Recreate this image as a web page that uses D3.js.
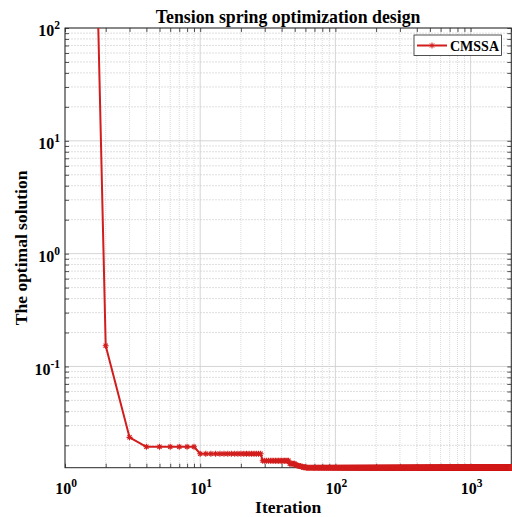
<!DOCTYPE html>
<html>
<head>
<meta charset="utf-8">
<script src="https://cdn.jsdelivr.net/npm/d3@7"></script>
<style>
  html, body { margin: 0; padding: 0; background: #fff; }
  svg { display: block; }
  text { font-family: "Liberation Serif", "Times New Roman", serif; font-weight: bold; fill: #000; }
</style>
</head>
<body>
<svg id="chart" width="512" height="517"></svg>
<script>
// Convergence history of CMSSA, stored as runs: the best value found holds
// from stepStart[i] until the next run begins.
const stepStart = [1, 2, 3, 4, 10, 29, 46, 51, 53, 56, 58, 61];
const stepValue = [4.7e14, 0.1527, 0.02354, 0.01941, 0.01683, 0.01459, 0.01375, 0.0134, 0.0131, 0.0129, 0.0128, 0.012665];
const maxIteration = 2000;

const seriesName = "CMSSA";
const titleText = "Tension spring optimization design";
const xLabelText = "Iteration";
const yLabelText = "The optimal solution";

// Decade tick exponents for the two log axes
const xTickExp = [0, 1, 2, 3];
const yTickExp = [-1, 0, 1, 2];

// Axis limits
const xDomain = [1, maxIteration];
const yDomain = [0.012665, 100];

// ---- layout ----
const plot = { left: 65, top: 28, right: 511.3, bottom: 467.7 };
const red = "#d21d1d";
const axisColor = "#262626";

const svg = d3.select("#chart");

const x = d3.scaleLog().domain(xDomain).range([plot.left, plot.right]);
const y = d3.scaleLog().domain(yDomain).range([plot.bottom, plot.top]);

// one value per iteration, expanded from the runs
const series = d3.range(1, maxIteration + 1).map(it => {
  const k = d3.bisectRight(stepStart, it) - 1;
  return { it, v: stepValue[k] };
});

// tick positions: decades and their 2..9 sub-steps inside the domain
function logTicks(dom, exps) {
  const major = exps.map(e => Math.pow(10, e));
  const minor = [];
  const e0 = Math.floor(Math.log10(dom[0])), e1 = Math.ceil(Math.log10(dom[1]));
  for (let e = e0; e <= e1; e++) {
    for (let m = 2; m <= 9; m++) {
      const v = +(m * Math.pow(10, e)).toPrecision(6);
      if (v >= dom[0] && v <= dom[1] * 1.0000001) minor.push(v);
    }
  }
  return { major, minor };
}
const xt = logTicks(xDomain, xTickExp);
const yt = logTicks(yDomain, yTickExp);

// ---- grid ----
const grid = svg.append("g");
grid.selectAll(".vmin").data(xt.minor).join("line")
  .attr("x1", d => x(d)).attr("x2", d => x(d))
  .attr("y1", plot.top).attr("y2", plot.bottom)
  .attr("stroke", "#cfcfcf").attr("stroke-width", 0.8).attr("stroke-dasharray", "1,1");
grid.selectAll(".hmin").data(yt.minor).join("line")
  .attr("y1", d => y(d)).attr("y2", d => y(d))
  .attr("x1", plot.left).attr("x2", plot.right)
  .attr("stroke", "#d6d6d6").attr("stroke-width", 0.8).attr("stroke-dasharray", "2,1");
grid.selectAll(".vmaj").data(xt.major).join("line")
  .attr("x1", d => x(d)).attr("x2", d => x(d))
  .attr("y1", plot.top).attr("y2", plot.bottom)
  .attr("stroke", "#d0d0d0").attr("stroke-width", 0.9);
grid.selectAll(".hmaj").data(yt.major).join("line")
  .attr("y1", d => y(d)).attr("y2", d => y(d))
  .attr("x1", plot.left).attr("x2", plot.right)
  .attr("stroke", "#d0d0d0").attr("stroke-width", 0.9);

// ---- axes (inward ticks on all four sides) ----
const tickLen = 4;
const allX = xt.major.concat(xt.minor);
const allY = yt.major.concat(yt.minor);

function styleAxis(g) {
  g.select(".domain").remove();
  g.selectAll(".tick line").attr("stroke", axisColor).attr("stroke-width", 0.8);
}

svg.append("g").attr("transform", `translate(0,${plot.bottom})`)
  .call(d3.axisBottom(x).tickValues(allX).tickSizeInner(-tickLen).tickSizeOuter(0).tickFormat(() => ""))
  .call(styleAxis);
svg.append("g").attr("transform", `translate(0,${plot.top})`)
  .call(d3.axisTop(x).tickValues(allX).tickSizeInner(-tickLen).tickSizeOuter(0).tickFormat(() => ""))
  .call(styleAxis);
svg.append("g").attr("transform", `translate(${plot.left},0)`)
  .call(d3.axisLeft(y).tickValues(allY).tickSizeInner(-tickLen).tickSizeOuter(0).tickFormat(() => ""))
  .call(styleAxis);
svg.append("g").attr("transform", `translate(${plot.right},0)`)
  .call(d3.axisRight(y).tickValues(allY).tickSizeInner(-tickLen).tickSizeOuter(0).tickFormat(() => ""))
  .call(styleAxis);

// frame
svg.append("rect")
  .attr("x", plot.left).attr("y", plot.top)
  .attr("width", plot.right - plot.left).attr("height", plot.bottom - plot.top)
  .attr("fill", "none").attr("stroke", axisColor).attr("stroke-width", 1);

// ---- tick labels: 10 with a superscript exponent ----
function powerLabel(sel, e) {
  sel.append("tspan").text("10");
  sel.append("tspan").attr("dy", -7).attr("font-size", 11.5).text(String(e));
}
xTickExp.forEach(e => {
  const t = svg.append("text")
    .attr("x", x(Math.pow(10, e)) + 1)
    .attr("y", 494)
    .attr("text-anchor", "middle")
    .attr("font-size", 16);
  powerLabel(t, e);
});
yTickExp.forEach(e => {
  const t = svg.append("text")
    .attr("x", 60)
    .attr("y", y(Math.pow(10, e)) + 8.3)
    .attr("text-anchor", "end")
    .attr("font-size", 16);
  powerLabel(t, e);
});

// ---- titles ----
svg.append("text")
  .attr("x", (plot.left + plot.right) / 2).attr("y", 23)
  .attr("text-anchor", "middle").attr("font-size", 17.8)
  .text(titleText);
svg.append("text")
  .attr("x", (plot.left + plot.right) / 2).attr("y", 513)
  .attr("text-anchor", "middle").attr("font-size", 17.5)
  .text(xLabelText);
svg.append("text")
  .attr("transform", `translate(27,${(plot.top + plot.bottom) / 2}) rotate(-90)`)
  .attr("text-anchor", "middle").attr("font-size", 17.5)
  .text(yLabelText);

// ---- convergence curve ----
svg.append("defs").append("clipPath").attr("id", "clip")
  .append("rect")
  .attr("x", plot.left - 4).attr("y", plot.top)
  .attr("width", 520 - plot.left).attr("height", plot.bottom - plot.top + 8);

const curve = svg.append("g").attr("clip-path", "url(#clip)");
curve.append("path")
  .datum(series)
  .attr("fill", "none")
  .attr("stroke", red)
  .attr("stroke-width", 2)
  .attr("stroke-linejoin", "round")
  .attr("d", d3.line().x(d => x(d.it)).y(d => y(d.v)));

// asterisk-like marker at every iteration
const mk = 3;
const markerPath = `M${-mk},0L${mk},0M0,${-mk}L0,${mk}` +
  `M${-mk * 0.7},${-mk * 0.7}L${mk * 0.7},${mk * 0.7}M${-mk * 0.7},${mk * 0.7}L${mk * 0.7},${-mk * 0.7}`;
curve.selectAll(".mk").data(series.filter(d => y(d.v) >= plot.top - 5)).join("path")
  .attr("transform", d => `translate(${x(d.it)},${y(d.v)})`)
  .attr("d", markerPath)
  .attr("stroke", red)
  .attr("stroke-width", 1.1)
  .attr("fill", "none");

// ---- legend ----
const lg = svg.append("g");
lg.append("rect")
  .attr("x", 414).attr("y", 35).attr("width", 87.5).attr("height", 20.5)
  .attr("fill", "#fff").attr("stroke", axisColor).attr("stroke-width", 0.8);
lg.append("line")
  .attr("x1", 417).attr("x2", 447).attr("y1", 45.5).attr("y2", 45.5)
  .attr("stroke", red).attr("stroke-width", 2);
lg.append("path")
  .attr("transform", "translate(432,45.5)")
  .attr("d", markerPath)
  .attr("stroke", red).attr("stroke-width", 1).attr("fill", "none");
lg.append("text")
  .attr("x", 450).attr("y", 50.5)
  .attr("font-size", 14)
  .text(seriesName);
</script>
</body>
</html>
